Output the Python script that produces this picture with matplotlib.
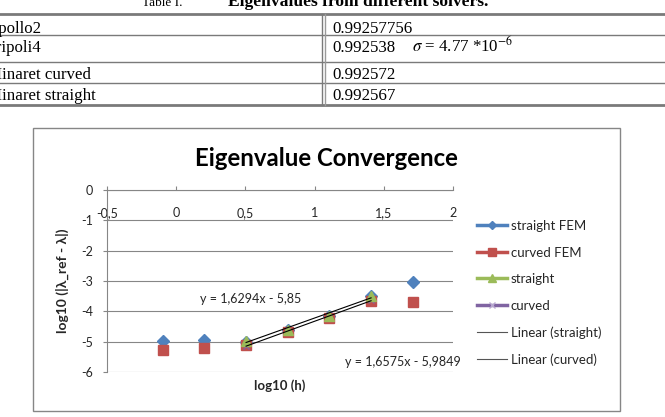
import numpy as np
import matplotlib
matplotlib.use("Agg")
import matplotlib.pyplot as plt
from matplotlib.lines import Line2D
from matplotlib.patches import Rectangle
from matplotlib.ticker import FuncFormatter

plt.rcParams['font.family'] = ['Lato', 'DejaVu Sans']
plt.rcParams['mathtext.fontset'] = 'stix'

# table data
solvers = ['Apollo2', 'Tripoli4', 'Minaret curved', 'Minaret straight']
eigenvalues = ['0.99257756', '0.992538', '0.992572', '0.992567']
sigma_note = r'$\sigma$ = 4.77 *10$^{-6}$'

# chart data
log_h = [-0.097, 0.204, 0.505, 0.806, 1.107, 1.408, 1.709]
straight_fem = [-4.97, -4.93, -5.00, -4.62, -4.15, -3.50, -3.02]
curved_fem = [-5.28, -5.20, -5.12, -4.69, -4.23, -3.66, -3.68]
log_h_sub = [0.505, 0.806, 1.107, 1.408]
straight = [-4.98, -4.63, -4.16, -3.49]
curved = [-5.13, -4.67, -4.20, -3.64]
fit_straight = [1.6294, -5.85]
fit_curved = [1.6575, -5.9849]
x_ticks = [-0.5, 0, 0.5, 1, 1.5, 2]
y_ticks = [0, -1, -2, -3, -4, -5, -6]

W, H = 665, 417
fig = plt.figure(figsize=(W / 100, H / 100), dpi=100)
gray = '#868686'
txt = '#262626'

# background axes in pixel coordinates (table, frame, free texts)
ax0 = fig.add_axes([0, 0, 1, 1])
ax0.set_xlim(0, W)
ax0.set_ylim(H, 0)
ax0.axis('off')

# caption (cut off at the top of the picture)
ax0.text(142, 6, 'Table I.', family='Liberation Serif', fontsize=9.5, va='baseline', color='black')
ax0.text(228, 6, 'Eigenvalues from different solvers.', family='Liberation Serif',
         fontweight='bold', fontsize=12.6, va='baseline', color='black')

# table
row_lines = [14, 35, 62, 83, 105]
for i, y in enumerate(row_lines):
    lw = 2.0 if i in (0, len(row_lines) - 1) else 1.0
    ax0.plot([0, W], [y, y], color='#7a7a7a', lw=lw)
ax0.plot([322, 322], [14, 105], color='#7a7a7a', lw=1.0)
ax0.plot([325, 325], [14, 105], color='#9a9a9a', lw=1.0)
baselines = [33, 52, 79, 100]
for name, val, yb in zip(solvers, eigenvalues, baselines):
    ax0.text(-13, yb, name, family='Liberation Serif', fontsize=12.2, va='baseline')
    ax0.text(332, yb, val, family='Liberation Serif', fontsize=12.2, va='baseline')
ax0.text(412, baselines[1], sigma_note, family='Liberation Serif', fontsize=12.2, va='baseline')

# chart frame
ax0.add_patch(Rectangle((33, 128), 587, 283, fill=False, edgecolor=gray, lw=1.0))
ax0.text(326, 158, 'Eigenvalue Convergence', fontsize=17.3, fontweight='bold',
         ha='center', va='center', color='black')

# plot area
ax = fig.add_axes([107 / W, 1 - 372 / H, 346 / W, 182 / H])
ax.set_facecolor('none')
ax.set_xlim(-0.5, 2)
ax.set_ylim(-6, 0)
ax.set_xticks(x_ticks)
ax.set_yticks(y_ticks)
comma = FuncFormatter(lambda v, p: ('%g' % v).replace('.', ','))
ax.xaxis.set_major_formatter(comma)
ax.yaxis.set_major_formatter(comma)
for s in ['bottom', 'right']:
    ax.spines[s].set_visible(False)
for s in ['top', 'left']:
    ax.spines[s].set_color(gray)
    ax.spines[s].set_linewidth(0.8)
ax.grid(axis='y', color=gray, lw=0.8)
ax.set_axisbelow(True)
ax.tick_params(axis='x', top=True, bottom=False, labeltop=True, labelbottom=False,
               direction='out', length=3, color=gray, pad=-24, labelsize=9, labelcolor=txt)
ax.tick_params(axis='y', direction='out', length=3, color=gray, pad=7, labelsize=9,
               labelcolor=txt)

ax.plot(log_h, straight_fem, 'D', color='#4F81BD', ms=6.5, zorder=3)
ax.plot(log_h, curved_fem, 's', color='#C0504D', ms=6.5, zorder=3)
ax.plot(log_h_sub, curved, 'x', color='#8064A2', ms=5, mew=1, zorder=3)
ax.plot(log_h_sub, straight, '^', color='#9BBB59', ms=7, zorder=4)
xs = np.array([log_h_sub[0], log_h_sub[-1]])
ax.plot(xs, np.polyval(fit_straight, xs), color='black', lw=0.8, zorder=5)
ax.plot(xs, np.polyval(fit_curved, xs), color='black', lw=0.8, zorder=5)

ax.set_xlabel('log10 (h)', fontsize=9.5, fontweight='bold', color=txt, va='top')
ax.xaxis.set_label_coords(0.5, -(379 - 372) / 182)
ax.set_ylabel('log10 (|λ_ref - λ|)', fontsize=10, fontweight='bold', color=txt)
ax.yaxis.set_label_coords((69 - 107) / 346, 0.5)

ax0.text(251, 299, 'y = 1,6294x - 5,85', fontsize=9, ha='center', va='center', color=txt, zorder=6)
ax0.text(403, 362, 'y = 1,6575x - 5,9849', fontsize=9, ha='center', va='center', color=txt, zorder=6)

handles = [
    Line2D([], [], color='#4F81BD', lw=2.5, marker='D', ms=4.5),
    Line2D([], [], color='#C0504D', lw=2.5, marker='s', ms=5.5),
    Line2D([], [], color='#9BBB59', lw=2.5, marker='^', ms=5.5),
    Line2D([], [], color='#8064A2', lw=2.5, marker='x', ms=5, mec='#b8a8d0'),
    Line2D([], [], color='#555555', lw=0.8),
    Line2D([], [], color='#555555', lw=0.8),
]
labels = ['straight FEM', 'curved FEM', 'straight', 'curved', 'Linear (straight)', 'Linear (curved)']
fig.legend(handles, labels, loc='upper left', bbox_to_anchor=(477 / W, 1 - 220 / H),
           frameon=False, fontsize=9.5, handlelength=2.3, handletextpad=0.25,
           labelspacing=1.1, borderpad=0, borderaxespad=0, labelcolor=txt)

fig.savefig('out.png', dpi=100)
